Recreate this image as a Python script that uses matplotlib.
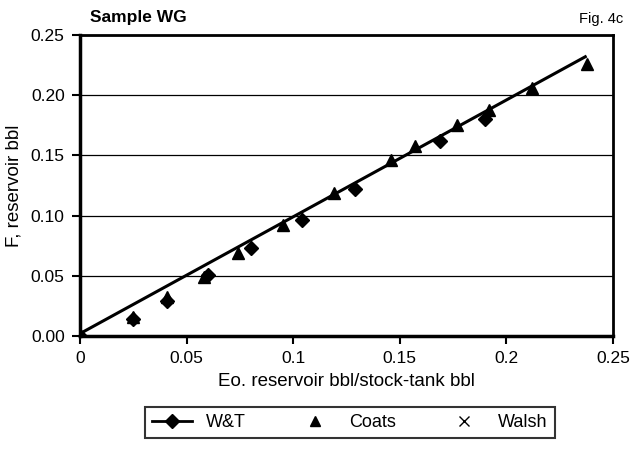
import numpy as np
import matplotlib
matplotlib.use("Agg")
import matplotlib.pyplot as plt

plt.rcParams['font.family'] = ['Liberation Sans', 'DejaVu Sans']

# Coats points (triangles)
coats_x = [0.0, 0.025, 0.041, 0.058, 0.074, 0.095, 0.119, 0.146, 0.157, 0.177, 0.192, 0.212, 0.238]
coats_y = [0.0, 0.016, 0.032, 0.049, 0.069, 0.092, 0.119, 0.146, 0.158, 0.175, 0.188, 0.206, 0.226]

# W&T points (diamonds)
wt_x = [0.0, 0.025, 0.041, 0.060, 0.080, 0.104, 0.129, 0.169, 0.190]
wt_y = [0.0, 0.014, 0.029, 0.051, 0.073, 0.096, 0.122, 0.162, 0.180]

# Walsh points (none visible)
walsh_x = []
walsh_y = []

# straight line through the data
fit_x = [0.0, 0.237]
fit_y = [0.002, 0.232]

xticks = [0, 0.05, 0.1, 0.15, 0.2, 0.25]
xlabels = ['0', '0.05', '0.1', '0.15', '0.2', '0.25']
yticks = [0.0, 0.05, 0.10, 0.15, 0.20, 0.25]
ylabels = ['0.00', '0.05', '0.10', '0.15', '0.20', '0.25']

fig = plt.figure(figsize=(6.33, 4.5), dpi=100)
ax = fig.add_axes([0.1264, 0.2533, 0.8420, 0.6687])

for y in yticks[1:]:
    ax.axhline(y, color='black', lw=0.9, zorder=1)

ax.plot(fit_x, fit_y, '-', color='black', lw=2.2, zorder=2)
ax.plot(wt_x, wt_y, 'D', color='black', ms=7.5, zorder=3)
ax.plot(coats_x, coats_y, '^', color='black', ms=9, zorder=4)
ax.plot(walsh_x, walsh_y, 'x', color='black', ms=7, zorder=4)

ax.set_xlim(0, 0.25)
ax.set_ylim(0, 0.25)
ax.set_xticks(xticks)
ax.set_xticklabels(xlabels, fontsize=12.5)
ax.set_yticks(yticks)
ax.set_yticklabels(ylabels, fontsize=12.5)
ax.tick_params(direction='out', length=6, width=1.5, color='black', pad=5)

for side in ['left', 'bottom']:
    ax.spines[side].set_linewidth(2.5)
for side in ['top', 'right']:
    ax.spines[side].set_linewidth(2.0)

ax.set_xlabel('Eo. reservoir bbl/stock-tank bbl', fontsize=13.5, labelpad=5)
ax.set_ylabel('F, reservoir bbl', fontsize=13.5, labelpad=6)

fig.text(0.142, 0.962, 'Sample WG', fontsize=12.5, fontweight='bold', ha='left', va='center')
fig.text(0.985, 0.958, 'Fig. 4c', fontsize=10.5, ha='right', va='center', stretch='condensed')

h1, = ax.plot([], [], '-D', color='black', ms=7, lw=2)
h2, = ax.plot([], [], '^', color='black', ms=7)
h3, = ax.plot([], [], 'x', color='black', ms=7)
leg = fig.legend([h1, h2, h3], ['W&T', 'Coats', 'Walsh'], ncol=3, mode='expand',
                 bbox_to_anchor=(0.229, 0.024, 0.648, 0.074), loc='center',
                 fancybox=False, edgecolor='black', fontsize=13,
                 handlelength=2.2, borderaxespad=0)
leg.get_frame().set_linewidth(1.5)

fig.savefig('out.png', dpi=100)
